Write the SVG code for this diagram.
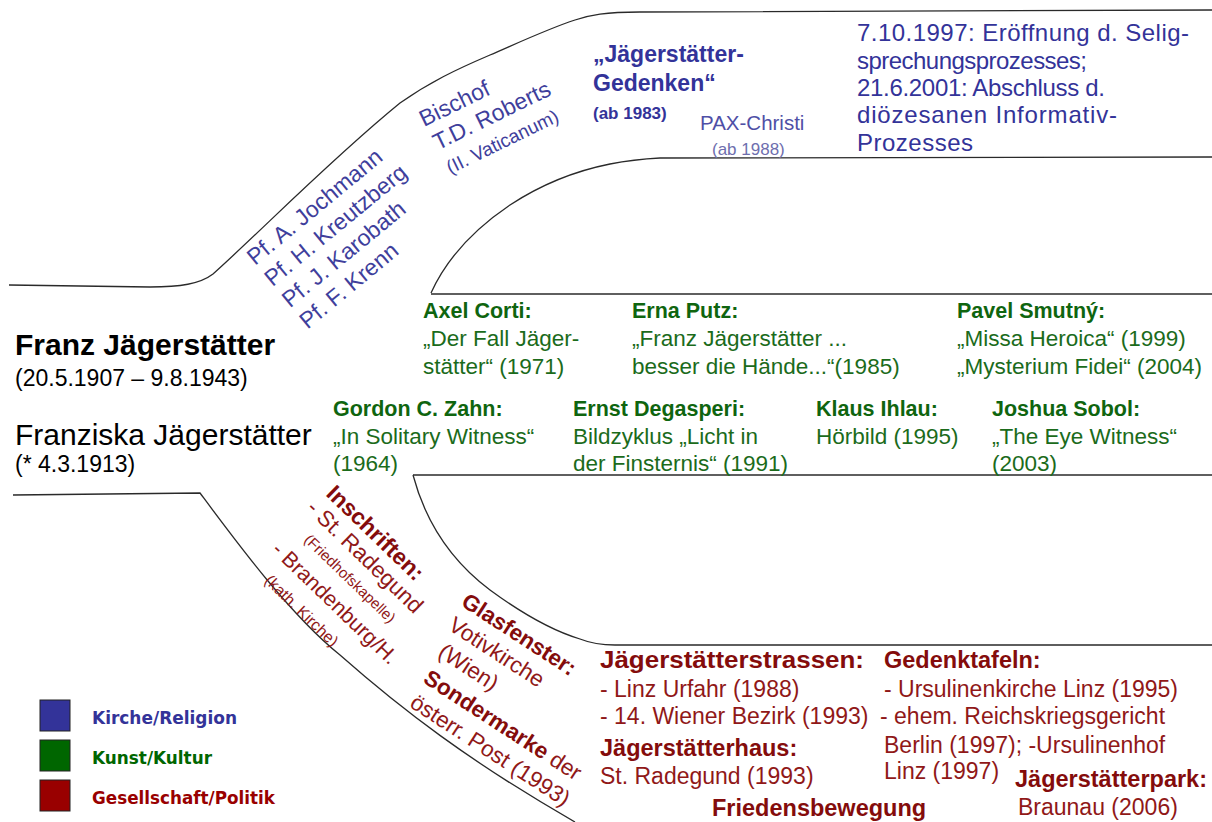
<svg xmlns="http://www.w3.org/2000/svg" width="1212" height="822" viewBox="0 0 1212 822">
<style>
text{font-family:"Liberation Sans",Arial,sans-serif}
.b{font-weight:bold}
.bl{fill:#333399}
.blr{fill:#3f3f9c;font-size:23px}
.gh{fill:#0f650f;font-weight:bold;font-size:21.5px}
.gt{fill:#1b6b1b;font-size:22.5px}
.rh{fill:#840c0c;font-weight:bold;font-size:23.5px}
.rt{fill:#901818;font-size:23px}
.ln{fill:none;stroke:#2a2a2a;stroke-width:1.3}
.lg{font-family:"DejaVu Sans",sans-serif;font-weight:bold;font-size:17px}
</style>
<rect width="1212" height="822" fill="#fff"/>
<g id="connectors">
<path class="ln" d="M9,285 L150,287 C180,287 200,284 213,274 C260,232 330,160 400,103 C430,82 455,70 490,55 C520,42 550,28 575,20 C590,15 605,12 640,12 L1212,10"/>
<path class="ln" d="M431,293 C445,262 470,232 510,205 C545,182 580,170 610,164 C625,161 640,159 660,158 L1212,157"/>
<path class="ln" d="M431,294 L1212,294"/>
<path class="ln" d="M413,475 L1212,475"/>
<path class="ln" d="M413,475 C425,520 450,560 490,590 C520,612 550,630 580,639 C590,643 600,645 615,645 L1212,645"/>
<path class="ln" d="M13,495 L200,493 C235,540 290,615 340,655 C400,708 470,762 575,822"/>
</g>
<g id="franz">
<text x="15" y="355" class="b" font-size="30">Franz Jägerstätter</text>
<text x="15" y="386" font-size="23">(20.5.1907 – 9.8.1943)</text>
</g>
<g id="franziska">
<text x="15" y="445" font-size="30">Franziska Jägerstätter</text>
<text x="15" y="472" font-size="23">(* 4.3.1913)</text>
</g>
<g id="priester" transform="translate(255,266) rotate(-39.5)">
<text class="blr" x="0" y="0">Pf. A. Jochmann</text>
<text class="blr" x="0" y="27.5">Pf. H. Kreutzberg</text>
<text class="blr" x="0" y="55">Pf. J. Karobath</text>
<text class="blr" x="0" y="82.5">Pf. F. Krenn</text>
</g>
<g id="bischof" transform="translate(424,127) rotate(-26)">
<text class="blr" x="0" y="0">Bischof</text>
<text class="blr" x="2" y="27">T.D. Roberts</text>
<text class="blr" x="3" y="54" style="font-size:19px">(II. Vaticanum)</text>
</g>
<g id="gedenken">
<text x="593" y="62" class="bl b" font-size="23">„Jägerstätter-</text>
<text x="593" y="91" class="bl b" font-size="23">Gedenken“</text>
<text x="593" y="119" class="bl b" font-size="17">(ab 1983)</text>
</g>
<g id="pax">
<text x="700" y="130" fill="#4f4fa6" font-size="20.5">PAX-Christi</text>
<text x="712" y="155" fill="#6e6eae" font-size="17">(ab 1988)</text>
</g>
<g id="seligsprechung" class="bl" font-size="24">
<text x="857" y="41" textLength="332" lengthAdjust="spacing">7.10.1997: Eröffnung d. Selig-</text>
<text x="857" y="69" textLength="230" lengthAdjust="spacing">sprechungsprozesses;</text>
<text x="857" y="96" textLength="248" lengthAdjust="spacing">21.6.2001: Abschluss d.</text>
<text x="857" y="123" textLength="260" lengthAdjust="spacing">diözesanen Informativ-</text>
<text x="857" y="151" textLength="116" lengthAdjust="spacing">Prozesses</text>
</g>
<g id="corti">
<text class="gh" x="423" y="318">Axel Corti:</text>
<text class="gt" x="423" y="346">„Der Fall Jäger-</text>
<text class="gt" x="423" y="374">stätter“ (1971)</text>
</g>
<g id="putz">
<text class="gh" x="632" y="318">Erna Putz:</text>
<text class="gt" x="632" y="346">„Franz Jägerstätter ...</text>
<text class="gt" x="632" y="374">besser die Hände...“(1985)</text>
</g>
<g id="smutny">
<text class="gh" x="957" y="318">Pavel Smutný:</text>
<text class="gt" x="957" y="346">„Missa Heroica“ (1999)</text>
<text class="gt" x="957" y="374">„Mysterium Fidei“ (2004)</text>
</g>
<g id="zahn">
<text class="gh" x="333" y="416">Gordon C. Zahn:</text>
<text class="gt" x="333" y="444">„In Solitary Witness“</text>
<text class="gt" x="333" y="471">(1964)</text>
</g>
<g id="degasperi">
<text class="gh" x="573" y="416">Ernst Degasperi:</text>
<text class="gt" x="573" y="444">Bildzyklus „Licht in</text>
<text class="gt" x="573" y="471">der Finsternis“ (1991)</text>
</g>
<g id="ihlau">
<text class="gh" x="816" y="416">Klaus Ihlau:</text>
<text class="gt" x="816" y="444">Hörbild (1995)</text>
</g>
<g id="sobol">
<text class="gh" x="992" y="416">Joshua Sobol:</text>
<text class="gt" x="992" y="444">„The Eye Witness“</text>
<text class="gt" x="992" y="471">(2003)</text>
</g>
<g id="inschriften" transform="translate(325,495) rotate(44)">
<text class="rh" x="0" y="0" style="font-size:23px">Inschriften:</text>
<text class="rt" x="-4" y="24" style="font-size:22.5px">- St. Radegund</text>
<text class="rt" x="16" y="48" style="font-size:15px">(Friedhofskapelle)</text>
<text class="rt" x="0" y="78" style="font-size:21.5px">- Brandenburg/H.</text>
<text class="rt" x="16" y="105" style="font-size:16px">(kath. Kirche)</text>
</g>
<g id="glasfenster" transform="translate(460,605) rotate(33)">
<text class="rh" x="0" y="0" style="font-size:22.5px">Glasfenster:</text>
<text class="rt" x="2" y="27" style="font-size:22.5px">Votivkirche</text>
<text class="rt" x="8" y="55" style="font-size:22.5px">(Wien)</text>
</g>
<g id="sondermarke" transform="translate(460,605) rotate(33)">
<text class="rt" x="10" y="85" style="font-size:22.5px"><tspan class="rh" style="font-size:22.5px">Sondermarke</tspan> der</text>
<text class="rt" x="12" y="113" style="font-size:22.5px">österr. Post (1993)</text>
</g>
<g id="strassen">
<text class="rh" x="600" y="668" textLength="264" lengthAdjust="spacingAndGlyphs">Jägerstätterstrassen:</text>
<text class="rt" x="600" y="697">- Linz Urfahr (1988)</text>
<text class="rt" x="600" y="724">- 14. Wiener Bezirk (1993)</text>
</g>
<g id="haus">
<text class="rh" x="600" y="756">Jägerstätterhaus:</text>
<text class="rt" x="600" y="784">St. Radegund (1993)</text>
</g>
<g id="friedensbewegung">
<text class="rh" x="712" y="816">Friedensbewegung</text>
</g>
<g id="gedenktafeln">
<text class="rh" x="884" y="668">Gedenktafeln:</text>
<text class="rt" x="884" y="697">- Ursulinenkirche Linz (1995)</text>
<text class="rt" x="880" y="724">- ehem. Reichskriegsgericht</text>
<text class="rt" x="884" y="753">Berlin (1997); -Ursulinenhof</text>
<text class="rt" x="884" y="779">Linz (1997)</text>
</g>
<g id="park">
<text class="rh" x="1015" y="787">Jägerstätterpark:</text>
<text class="rt" x="1018" y="815">Braunau (2006)</text>
</g>
<g id="legende">
<rect x="40" y="700" width="30" height="31" fill="#333399" stroke="#222" stroke-width="1"/>
<rect x="40" y="740" width="30" height="31" fill="#006600" stroke="#222" stroke-width="1"/>
<rect x="40" y="780" width="30" height="31" fill="#990000" stroke="#222" stroke-width="1"/>
<text class="lg" x="92" y="724" fill="#333399" textLength="145" lengthAdjust="spacingAndGlyphs">Kirche/Religion</text>
<text class="lg" x="92" y="764" fill="#006600" textLength="120" lengthAdjust="spacingAndGlyphs">Kunst/Kultur</text>
<text class="lg" x="92" y="804" fill="#990000" textLength="183" lengthAdjust="spacingAndGlyphs">Gesellschaft/Politik</text>
</g>
</svg>
